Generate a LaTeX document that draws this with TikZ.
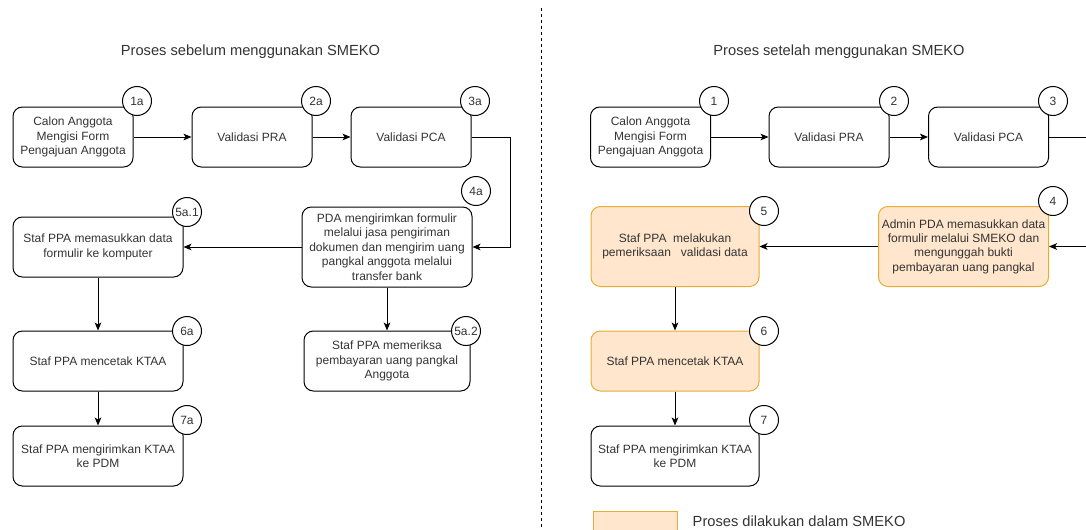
\documentclass[tikz,border=0pt]{standalone}
\usepackage{fontspec}
\setmainfont{Liberation Sans}
\usetikzlibrary{arrows.meta,positioning}
\definecolor{smekofill}{HTML}{FFE6CC}
\definecolor{smekoline}{HTML}{E6AC33}
\definecolor{txt}{HTML}{333333}
\tikzset{
    block/.style = {draw, rectangle, rounded corners=7pt, line width=0.75pt,
        minimum height=45pt,
        minimum width=90pt, align=center, inner sep=1pt,
        font=\fontsize{9}{10.8}\selectfont, text=txt},
    smeko/.style = {block, fill=smekofill, draw=smekoline},
    num/.style = {draw, circle, fill=white, line width=0.75pt,
        minimum size=21.75pt, inner sep=0pt,
        font=\fontsize{9}{10.8}\selectfont, text=txt},
    arrow/.style = {draw, line width=0.75pt, -{Stealth[length=6pt,width=5pt,inset=1.5pt]}},
    title/.style = {font=\fontsize{11}{13}\selectfont, text=txt}
}

\begin{document}
\begin{tikzpicture}[x=0.75pt, y=-0.75pt]
    \useasboundingbox (0,0) rectangle (1086,529);
    \clip (0,0) rectangle (1086,529);

    \node [title] (tbefore) at (250.5,52) {Proses sebelum menggunakan SMEKO};
    \node [title] (tafter) at (839,52) {Proses setelah menggunakan SMEKO};
    \draw [line width=0.75pt, dash pattern=on 2.25pt off 2.25pt] (541,8) -- (541,529);

    % sebelum SMEKO
    \node [block] (p1a) at (73,137) {Calon Anggota\\ Mengisi Form\\ Pengajuan Anggota};
    \node [block] (p2a) at (252,137) {Validasi PRA};
    \node [block] (p3a) at (411,137) {Validasi PCA};
    \node [block, minimum width=127.5pt, minimum height=60pt] (p4a) at (387,247)
        {PDA mengirimkan formulir\\ melalui jasa pengiriman\\ dokumen dan mengirim uang\\ pangkal anggota melalui\\ transfer bank};
    \node [block, minimum width=127.5pt] (p5a1) at (98,247) {Staf PPA memasukkan data\\ formulir ke komputer};
    \node [block, minimum width=127.5pt] (p6a) at (98,361) {Staf PPA mencetak KTAA};
    \node [block, minimum width=127.5pt] (p7a) at (98,456) {Staf PPA mengirimkan KTAA\\ ke PDM};
    \node [block, minimum width=124.5pt] (p5a2) at (387,361) {Staf PPA memeriksa\\ pembayaran uang pangkal\\ Anggota};
    \coordinate (bendA) at (510,137);

    \draw [arrow] (p1a) -- (p2a);
    \draw [arrow] (p2a) -- (p3a);
    \draw [arrow] (p3a.east) -- (bendA) |- (p4a.east);
    \draw [arrow] (p4a) -- (p5a1);
    \draw [arrow] (p4a) -- (p5a2);
    \draw [arrow] (p5a1) -- (p6a);
    \draw [arrow] (p6a) -- (p7a);

    \node [num] (n1a) at (137,101) {1a};
    \node [num] (n2a) at (316,101) {2a};
    \node [num] (n3a) at (475,101) {3a};
    \node [num] (n4a) at (476,191) {4a};
    \node [num] (n5a1) at (187,212) {5a.1};
    \node [num] (n6a) at (187,331) {6a};
    \node [num] (n7a) at (187,420) {7a};
    \node [num] (n5a2) at (466,331) {5a.2};

    % setelah SMEKO
    \node [block] (q1) at (650.5,137) {Calon Anggota\\ Mengisi Form\\ Pengajuan Anggota};
    \node [block] (q2) at (829,137) {Validasi PRA};
    \node [block] (q3) at (988.5,137) {Validasi PCA};
    \node [smeko, minimum width=127.5pt, minimum height=60pt] (q4) at (963.5,246.5)
        {Admin PDA memasukkan data\\ formulir melalui SMEKO dan\\ mengunggah bukti\\ pembayaran uang pangkal};
    \node [smeko, minimum width=126pt, minimum height=60pt] (q5) at (675,246.5)
        {Staf PPA\ \ melakukan\\ pemeriksaan\ \ \ validasi data};
    \node [smeko, minimum width=126pt] (q6) at (675,361) {Staf PPA mencetak KTAA};
    \node [block, minimum width=126pt] (q7) at (675,456) {Staf PPA mengirimkan KTAA\\ ke PDM};
    \coordinate (bendB) at (1110,137);

    \draw [arrow] (q1) -- (q2);
    \draw [arrow] (q2) -- (q3);
    \draw [arrow] (q3.east) -- (bendB) |- (q4.east);
    \draw [arrow] (q4) -- (q5);
    \draw [arrow] (q5) -- (q6);
    \draw [arrow] (q6) -- (q7);

    \node [num] (m1) at (714,101) {1};
    \node [num] (m2) at (894,101) {2};
    \node [num] (m3) at (1053,101) {3};
    \node [num] (m4) at (1053,201) {4};
    \node [num] (m5) at (764,211) {5};
    \node [num] (m6) at (764,331) {6};
    \node [num] (m7) at (764,420) {7};

    \node [smeko, rounded corners=0pt, minimum width=63pt, minimum height=30pt,
        anchor=north west] (key) at (593,511) {};
    \node [title, anchor=west] (keytext) at (688,521) {Proses dilakukan dalam SMEKO};
\end{tikzpicture}
\end{document}
